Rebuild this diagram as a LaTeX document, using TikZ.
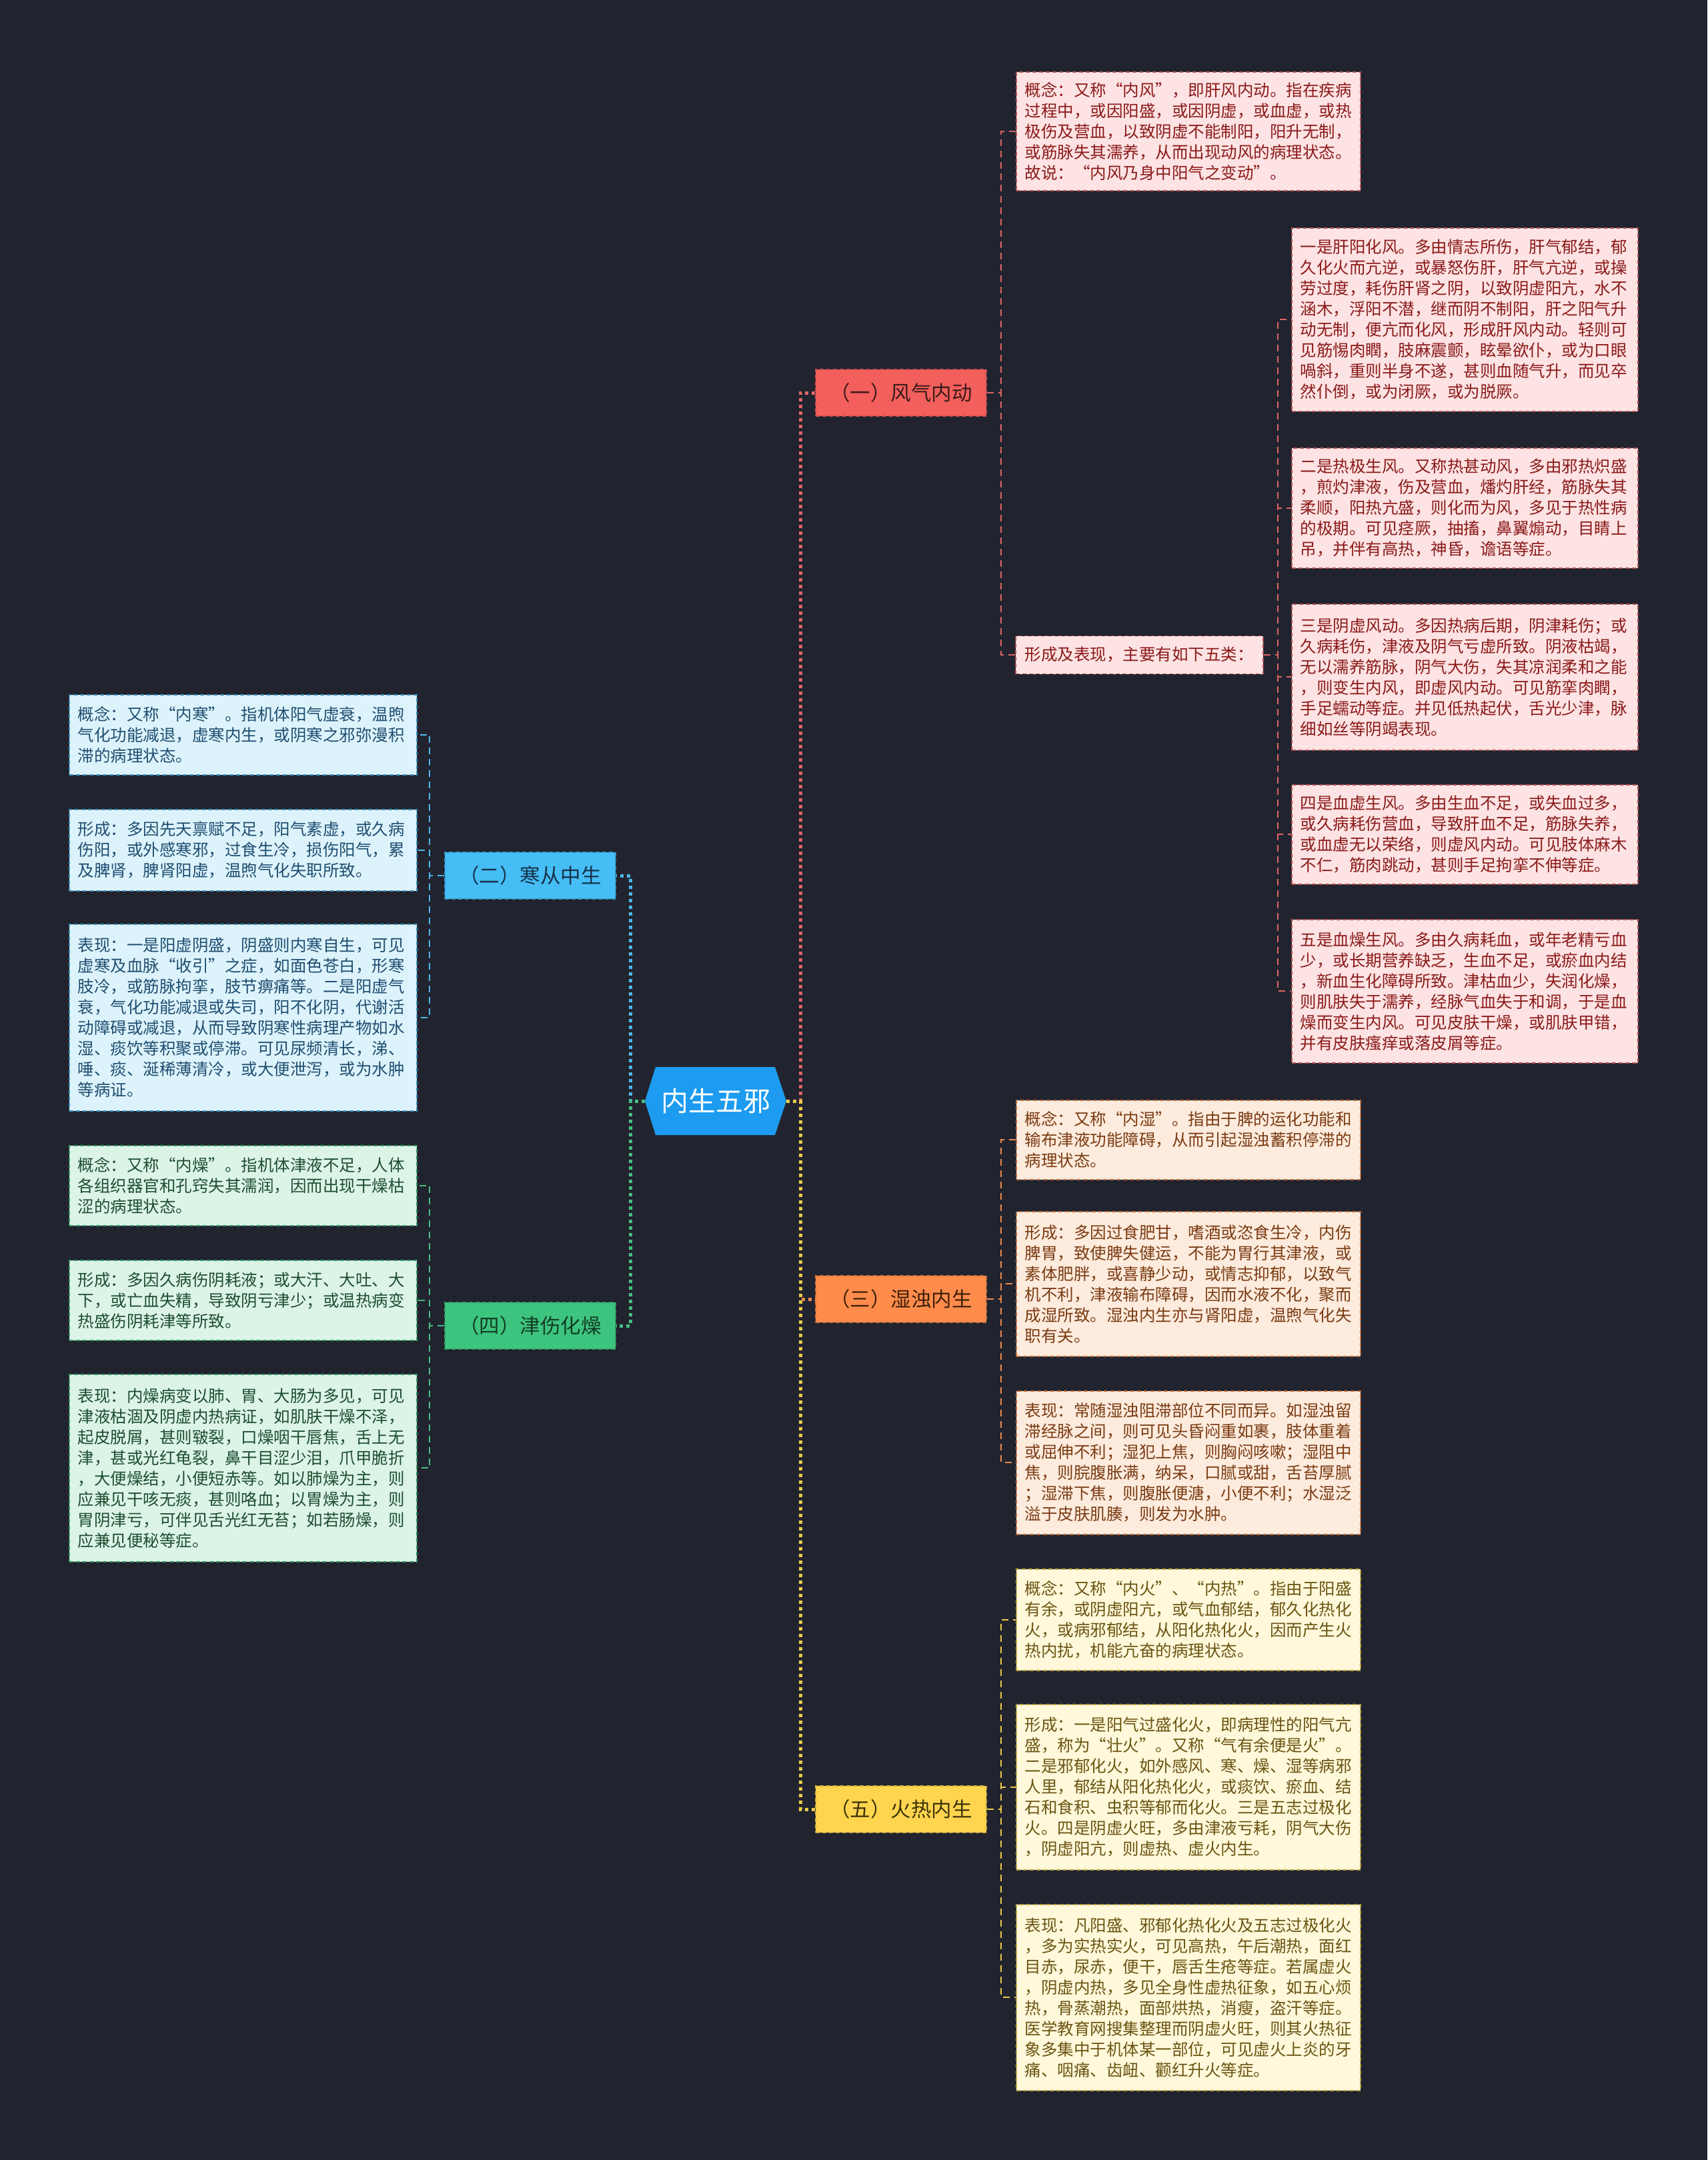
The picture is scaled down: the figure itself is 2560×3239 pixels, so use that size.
\documentclass[tikz,border=0pt]{standalone}
\usepackage{fontspec}
\setmainfont{Noto Sans CJK SC}
\definecolor{bgcol}{HTML}{21242F}
\definecolor{rootc}{HTML}{1D9BF0}
\definecolor{rBranch}{HTML}{F25F5C}\definecolor{rLeaf}{HTML}{FDE3E3}\definecolor{rText}{HTML}{8B1A1A}\definecolor{rLine}{HTML}{E06666}\definecolor{rBText}{HTML}{3A1A1A}
\definecolor{bBranch}{HTML}{45BDF5}\definecolor{bLeaf}{HTML}{DDF3FC}\definecolor{bText}{HTML}{1F4E70}\definecolor{bLine}{HTML}{4DB6EC}\definecolor{bBText}{HTML}{16324A}
\definecolor{gBranch}{HTML}{3DC47E}\definecolor{gLeaf}{HTML}{DCF4E8}\definecolor{gText}{HTML}{1E4D30}\definecolor{gLine}{HTML}{46BF80}\definecolor{gBText}{HTML}{123D25}
\definecolor{oBranch}{HTML}{FF8C4B}\definecolor{oLeaf}{HTML}{FDEBDD}\definecolor{oText}{HTML}{7A3B12}\definecolor{oLine}{HTML}{EE8A4E}\definecolor{oBText}{HTML}{3D1E08}
\definecolor{yBranch}{HTML}{FFD54F}\definecolor{yLeaf}{HTML}{FFF8DA}\definecolor{yText}{HTML}{6A5412}\definecolor{yLine}{HTML}{EBCB4A}\definecolor{yBText}{HTML}{3D3208}
\tikzset{
  leafbase/.style={anchor=north west, inner xsep=13pt, inner ysep=0pt, align=left, line width=1.5pt, dash pattern=on 6pt off 4pt, font=\fontsize{24.5}{31}\selectfont},
  leafred/.style={leafbase, fill=rLeaf, draw=rLine!80!black, text=rText},
  leafblue/.style={leafbase, fill=bLeaf, draw=bLine!80!black, text=bText},
  leafgreen/.style={leafbase, fill=gLeaf, draw=gLine!80!black, text=gText},
  leaforange/.style={leafbase, fill=oLeaf, draw=oLine!80!black, text=oText},
  leafyellow/.style={leafbase, fill=yLeaf, draw=yLine!80!black, text=yText},
  branchbase/.style={minimum width=256pt, minimum height=70pt, inner sep=0pt, line width=1.5pt, dash pattern=on 6pt off 4pt, font=\fontsize{30.5}{30.5}\selectfont},
  branchred/.style={branchbase, fill=rBranch, draw=rBranch!80!black, text=rBText},
  branchblue/.style={branchbase, fill=bBranch, draw=bBranch!80!black, text=bBText},
  branchgreen/.style={branchbase, fill=gBranch, draw=gBranch!80!black, text=gBText},
  branchorange/.style={branchbase, fill=oBranch, draw=oBranch!80!black, text=oBText},
  branchyellow/.style={branchbase, fill=yBranch, draw=yBranch!80!black, text=yBText},
  mainc/.style={line width=5pt, dash pattern=on 5pt off 5pt},
  leafc/.style={line width=2pt, dash pattern=on 10pt off 7pt},
}
\begin{document}
\begin{tikzpicture}[x=1pt,y=-1pt]
\fill[bgcol] (0,0) rectangle (2560,3239);
\useasboundingbox (0,0) rectangle (2560,3239);

% root
\fill[rootc] (967,1651) -- (983,1600) -- (1162,1600) -- (1179,1651) -- (1162,1702) -- (983,1702) -- cycle;
\node[minimum width=212pt, minimum height=102pt, inner sep=0pt, text=white, font=\fontsize{41}{41}\selectfont] (root) at (1073,1651) {内生五邪};

% branches
\node[branchred] (F) at (1351,589) {（一）风气内动};
\node[branchorange] (S) at (1351,1948) {（三）湿浊内生};
\node[branchyellow] (R) at (1351,2713) {（五）火热内生};
\node[branchblue] (H) at (795,1313) {（二）寒从中生};
\node[branchgreen] (Z) at (795,1988) {（四）津伤化燥};

% main connectors
\draw[mainc, draw=rLine] (root.east) -- (1200,1651) |- (F.west);
\draw[mainc, draw=oLine] (root.east) -- (1200,1651) |- (S.west);
\draw[mainc, draw=yLine] (root.east) -- (1200,1651) |- (R.west);
\draw[mainc, draw=bLine] (root.west) -- (945,1651) |- (H.east);
\draw[mainc, draw=gLine] (root.west) -- (945,1651) |- (Z.east);

% ---- 风气内动 leaves
\node[leafred, text width=490pt, minimum height=178pt] (F0) at (1523,107) {概念：又称“内风”，即肝风内动。指在疾病\\过程中，或因阳盛，或因阴虚，或血虚，或热\\极伤及营血，以致阴虚不能制阳，阳升无制，\\或筋脉失其濡养，从而出现动风的病理状态。\\故说：“内风乃身中阳气之变动”。};
\node[leafred, anchor=west, inner xsep=14pt, minimum height=57pt] (FL) at (1522,982) {形成及表现，主要有如下五类：};
\node[leafred, text width=493pt, minimum height=275pt] (F1) at (1936,341) {一是肝阳化风。多由情志所伤，肝气郁结，郁\\久化火而亢逆，或暴怒伤肝，肝气亢逆，或操\\劳过度，耗伤肝肾之阴，以致阴虚阳亢，水不\\涵木，浮阳不潜，继而阴不制阳，肝之阳气升\\动无制，便亢而化风，形成肝风内动。轻则可\\见筋惕肉瞤，肢麻震颤，眩晕欲仆，或为口眼\\喎斜，重则半身不遂，甚则血随气升，而见卒\\然仆倒，或为闭厥，或为脱厥。};
\node[leafred, text width=493pt, minimum height=180pt] (F2) at (1936,671) {二是热极生风。又称热甚动风，多由邪热炽盛\\，煎灼津液，伤及营血，燔灼肝经，筋脉失其\\柔顺，阳热亢盛，则化而为风，多见于热性病\\的极期。可见痉厥，抽搐，鼻翼煽动，目睛上\\吊，并伴有高热，神昏，谵语等症。};
\node[leafred, text width=493pt, minimum height=219pt] (F3) at (1936,905) {三是阴虚风动。多因热病后期，阴津耗伤；或\\久病耗伤，津液及阴气亏虚所致。阴液枯竭，\\无以濡养筋脉，阴气大伤，失其凉润柔和之能\\，则变生内风，即虚风内动。可见筋挛肉瞤，\\手足蠕动等症。并见低热起伏，舌光少津，脉\\细如丝等阴竭表现。};
\node[leafred, text width=493pt, minimum height=149pt] (F4) at (1936,1176) {四是血虚生风。多由生血不足，或失血过多，\\或久病耗伤营血，导致肝血不足，筋脉失养，\\或血虚无以荣络，则虚风内动。可见肢体麻木\\不仁，筋肉跳动，甚则手足拘挛不伸等症。};
\node[leafred, text width=493pt, minimum height=215pt] (F5) at (1936,1378) {五是血燥生风。多由久病耗血，或年老精亏血\\少，或长期营养缺乏，生血不足，或瘀血内结\\，新血生化障碍所致。津枯血少，失润化燥，\\则肌肤失于濡养，经脉气血失于和调，于是血\\燥而变生内风。可见皮肤干燥，或肌肤甲错，\\并有皮肤瘙痒或落皮屑等症。};
\draw[leafc, draw=rLine] (F.east) -- ++(21,0) |- (F0.west);
\draw[leafc, draw=rLine] (F.east) -- ++(21,0) |- (FL.west);
\foreach \n in {F1,F2,F3,F4,F5}{
  \draw[leafc, draw=rLine] (FL.east) -- ++(21,0) |- (\n.west);
}

% ---- 寒从中生 leaves
\node[leafblue, text width=495pt, minimum height=120pt] (H0) at (103,1041) {概念：又称“内寒”。指机体阳气虚衰，温煦\\气化功能减退，虚寒内生，或阴寒之邪弥漫积\\滞的病理状态。};
\node[leafblue, text width=495pt, minimum height=122pt] (H1) at (103,1213) {形成：多因先天禀赋不足，阳气素虚，或久病\\伤阳，或外感寒邪，过食生冷，损伤阳气，累\\及脾肾，脾肾阳虚，温煦气化失职所致。};
\node[leafblue, text width=495pt, minimum height=280pt] (H2) at (103,1385) {表现：一是阳虚阴盛，阴盛则内寒自生，可见\\虚寒及血脉“收引”之症，如面色苍白，形寒\\肢冷，或筋脉拘挛，肢节痹痛等。二是阳虚气\\衰，气化功能减退或失司，阳不化阴，代谢活\\动障碍或减退，从而导致阴寒性病理产物如水\\湿、痰饮等积聚或停滞。可见尿频清长，涕、\\唾、痰、涎稀薄清冷，或大便泄泻，或为水肿\\等病证。};
\foreach \n in {H0,H1,H2}{
  \draw[leafc, draw=bLine] (H.west) -- ++(-22,0) |- (\n.east);
}

% ---- 津伤化燥 leaves
\node[leafgreen, text width=495pt, minimum height=120pt] (Z0) at (103,1717) {概念：又称“内燥”。指机体津液不足，人体\\各组织器官和孔窍失其濡润，因而出现干燥枯\\涩的病理状态。};
\node[leafgreen, text width=495pt, minimum height=120pt] (Z1) at (103,1889) {形成：多因久病伤阴耗液；或大汗、大吐、大\\下，或亡血失精，导致阴亏津少；或温热病变\\热盛伤阴耗津等所致。};
\node[leafgreen, text width=495pt, minimum height=281pt] (Z2) at (103,2060) {表现：内燥病变以肺、胃、大肠为多见，可见\\津液枯涸及阴虚内热病证，如肌肤干燥不泽，\\起皮脱屑，甚则皲裂，口燥咽干唇焦，舌上无\\津，甚或光红龟裂，鼻干目涩少泪，爪甲脆折\\，大便燥结，小便短赤等。如以肺燥为主，则\\应兼见干咳无痰，甚则咯血；以胃燥为主，则\\胃阴津亏，可伴见舌光红无苔；如若肠燥，则\\应兼见便秘等症。};
\foreach \n in {Z0,Z1,Z2}{
  \draw[leafc, draw=gLine] (Z.west) -- ++(-22,0) |- (\n.east);
}

% ---- 湿浊内生 leaves
\node[leaforange, text width=490pt, minimum height=119pt] (S0) at (1523,1649) {概念：又称“内湿”。指由于脾的运化功能和\\输布津液功能障碍，从而引起湿浊蓄积停滞的\\病理状态。};
\node[leaforange, text width=490pt, minimum height=217pt] (S1) at (1523,1816) {形成：多因过食肥甘，嗜酒或恣食生冷，内伤\\脾胃，致使脾失健运，不能为胃行其津液，或\\素体肥胖，或喜静少动，或情志抑郁，以致气\\机不利，津液输布障碍，因而水液不化，聚而\\成湿所致。湿浊内生亦与肾阳虚，温煦气化失\\职有关。};
\node[leaforange, text width=490pt, minimum height=215pt] (S2) at (1523,2085) {表现：常随湿浊阻滞部位不同而异。如湿浊留\\滞经脉之间，则可见头昏闷重如裹，肢体重着\\或屈伸不利；湿犯上焦，则胸闷咳嗽；湿阻中\\焦，则脘腹胀满，纳呆，口腻或甜，舌苔厚腻\\；湿滞下焦，则腹胀便溏，小便不利；水湿泛\\溢于皮肤肌腠，则发为水肿。};
\foreach \n in {S0,S1,S2}{
  \draw[leafc, draw=oLine] (S.east) -- ++(21,0) |- (\n.west);
}

% ---- 火热内生 leaves
\node[leafyellow, text width=490pt, minimum height=152pt] (R0) at (1523,2352) {概念：又称“内火”、“内热”。指由于阳盛\\有余，或阴虚阳亢，或气血郁结，郁久化热化\\火，或病邪郁结，从阳化热化火，因而产生火\\热内扰，机能亢奋的病理状态。};
\node[leafyellow, text width=490pt, minimum height=248pt] (R1) at (1523,2555) {形成：一是阳气过盛化火，即病理性的阳气亢\\盛，称为“壮火”。又称“气有余便是火”。\\二是邪郁化火，如外感风、寒、燥、湿等病邪\\人里，郁结从阳化热化火，或痰饮、瘀血、结\\石和食积、虫积等郁而化火。三是五志过极化\\火。四是阴虚火旺，多由津液亏耗，阴气大伤\\，阴虚阳亢，则虚热、虚火内生。};
\node[leafyellow, text width=490pt, minimum height=279pt] (R2) at (1523,2855) {表现：凡阳盛、邪郁化热化火及五志过极化火\\，多为实热实火，可见高热，午后潮热，面红\\目赤，尿赤，便干，唇舌生疮等症。若属虚火\\，阴虚内热，多见全身性虚热征象，如五心烦\\热，骨蒸潮热，面部烘热，消瘦，盗汗等症。\\医学教育网搜集整理而阴虚火旺，则其火热征\\象多集中于机体某一部位，可见虚火上炎的牙\\痛、咽痛、齿衄、颧红升火等症。};
\foreach \n in {R0,R1,R2}{
  \draw[leafc, draw=yLine] (R.east) -- ++(21,0) |- (\n.west);
}
\end{tikzpicture}
\end{document}
